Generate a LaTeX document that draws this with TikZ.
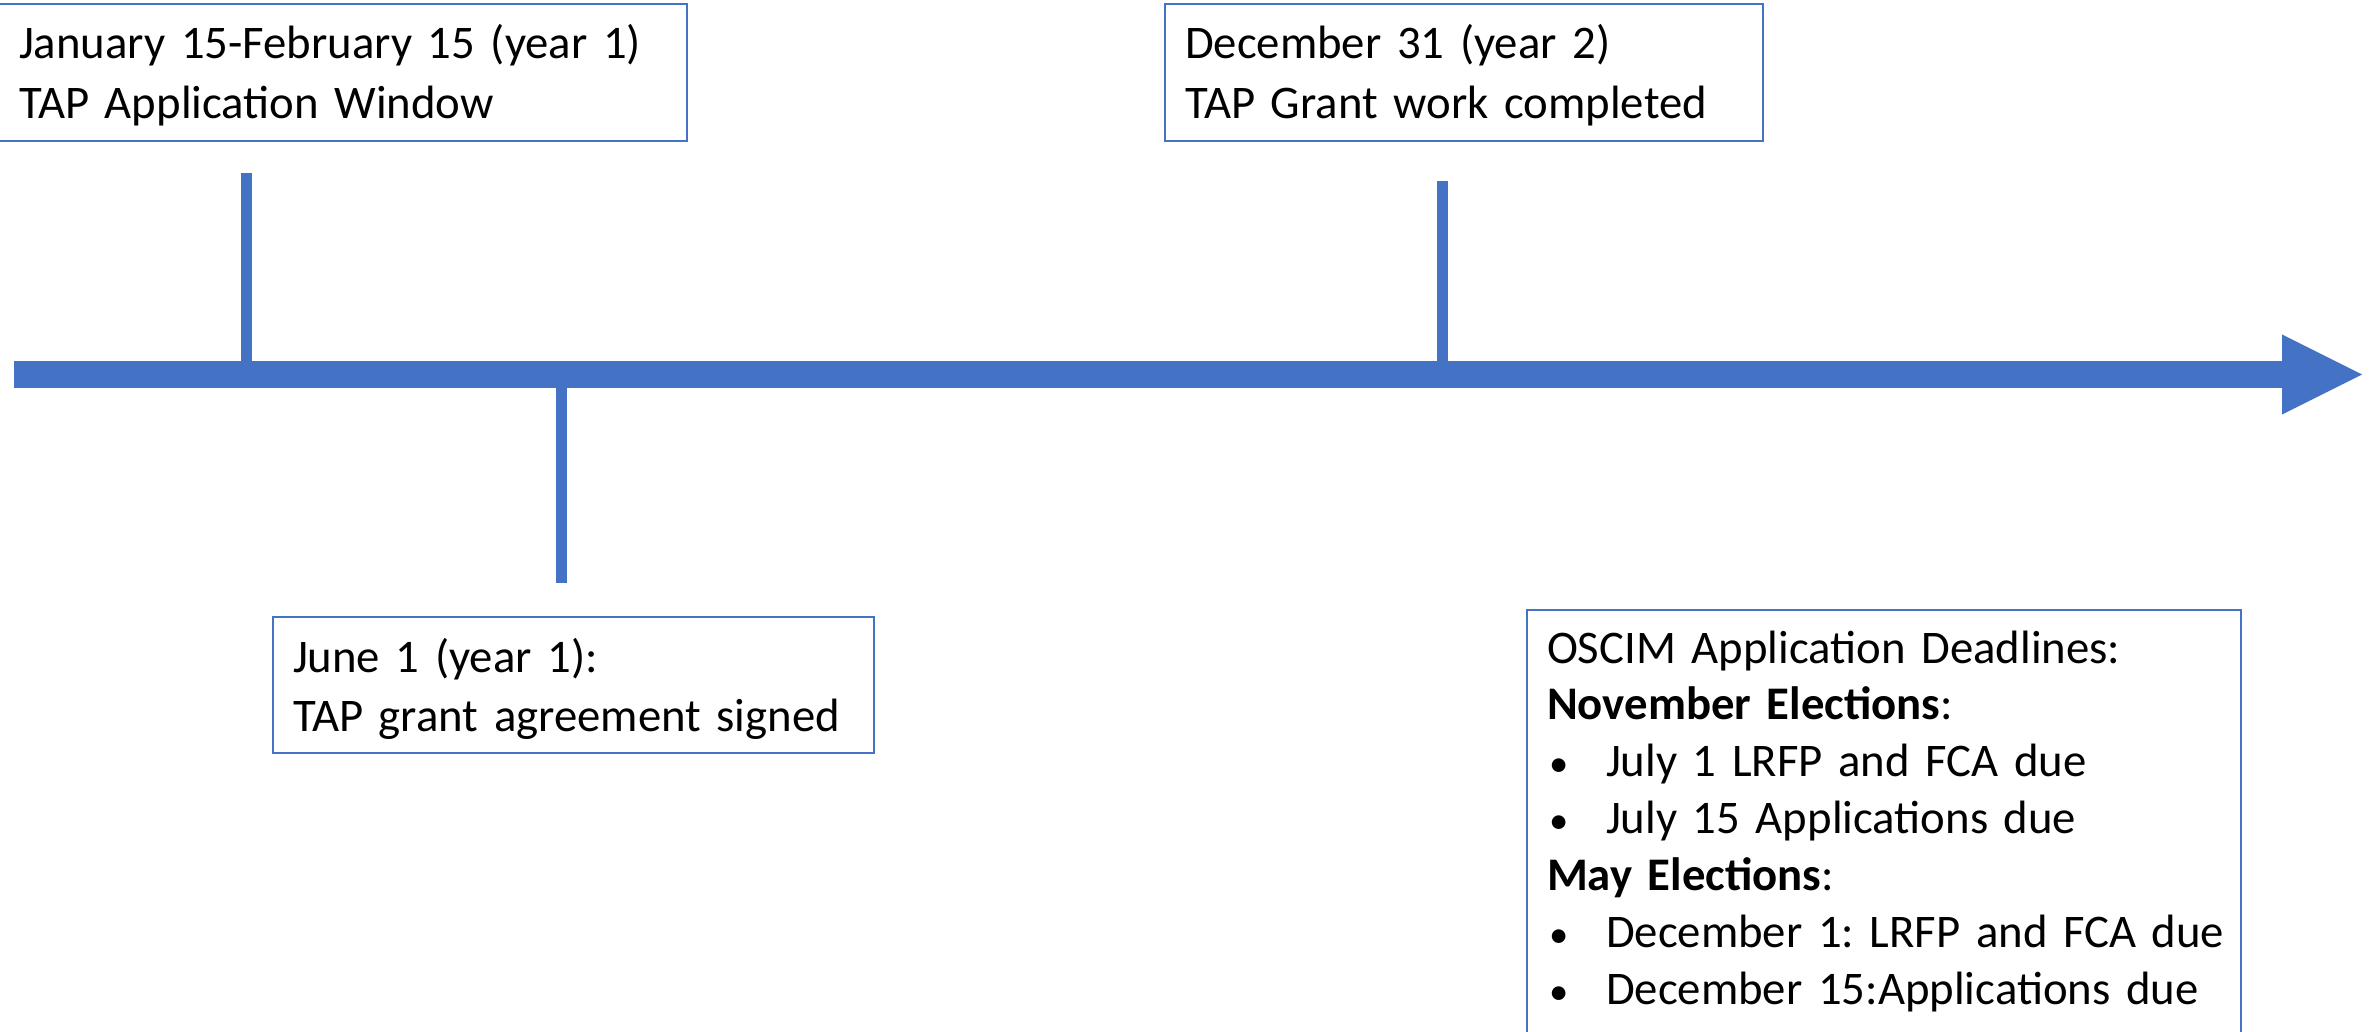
\documentclass[tikz,border=0pt]{standalone}
\usepackage{fontspec}
\setmainfont{Carlito}
\usetikzlibrary{arrows.meta}
\definecolor{tlblue}{HTML}{4472C4}
\newcommand{\bul}{\makebox[0.59cm][l]{\hspace{0.02cm}\fontsize{11}{11}\selectfont•}}

\begin{document}
\frenchspacing
\begin{tikzpicture}[
  every node/.style={font=\fontsize{13.3}{16.8}\selectfont},
  event/.style={draw=tlblue,line width=0.02cm,anchor=north west,outer sep=0pt,
    inner xsep=0.2cm,inner ysep=0pt,align=left,text height=0.55cm,text depth=0.82cm},
  timeline/.style={tlblue,line width=0.27cm,-{Triangle[length=0.8cm,width=0.8cm,line width=0pt]}},
  tick/.style={tlblue,line width=0.11cm}]

    \useasboundingbox (0,0) rectangle (23.74,-10.31);

    \node[event,text width=6.48cm](appwin) at (-0.01,-0.04)
        {January 15-February 15 (year 1)\\TAP Application Window};
    \node[event,text width=5.58cm](workdone) at (11.65,-0.04)
        {December 31 (year 2)\\TAP Grant work completed};
    \node[event,text width=5.61cm,text depth=0.81cm](signed) at (2.73,-6.17)
        {June 1 (year 1):\\TAP grant agreement signed};
    \node[event,text width=6.74cm,text height=0.53cm,text depth=4cm,
          font=\fontsize{13.3}{16.2}\selectfont](oscim) at (15.27,-6.10)
        {OSCIM Application Deadlines:\\
         \textbf{November Elections}:\\
         \mbox{\bul July 1 LRFP and FCA due}\\
         \mbox{\bul July 15 Applications due}\\
         \textbf{May Elections}:\\
         \mbox{\bul December 1: LRFP and FCA due}\\
         \mbox{\bul December 15:Applications due}};

    \coordinate (tlstart) at (0.14,-3.745);
    \coordinate (tlend) at (23.62,-3.745);
    \coordinate (jan) at (2.46,-1.73);
    \coordinate (jun) at (5.61,-5.83);
    \coordinate (dec) at (14.42,-1.81);

    \draw[tick](jan) -- (jan |- tlstart);
    \draw[tick](jun |- tlstart) -- (jun);
    \draw[tick](dec) -- (dec |- tlstart);
    \draw[timeline](tlstart) -- (tlend);
\end{tikzpicture}
\end{document}
